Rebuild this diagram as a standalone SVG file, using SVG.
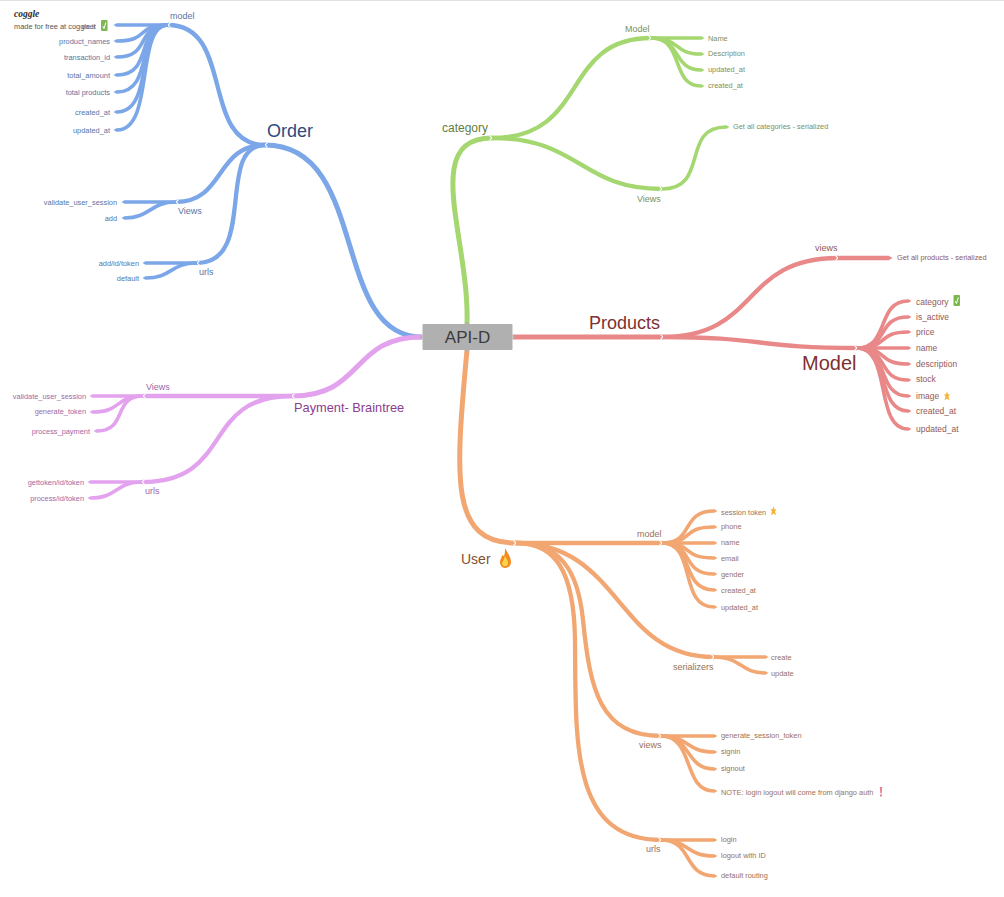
<svg xmlns="http://www.w3.org/2000/svg" width="1004" height="897" viewBox="0 0 1004 897">
<style>
text{font-family:"Liberation Sans",Arial,sans-serif;font-size:7.4px}
.e{text-anchor:end}.m{text-anchor:middle}
.mid{font-size:9px}
.big{font-size:8.500px}
path.c{fill:none;stroke-linecap:butt}
.b{stroke:#7ba6e8}.p{stroke:#e3a2ee}.g{stroke:#a4d76f}.r{stroke:#e98888}.o{stroke:#f2a671}
.w5{stroke-width:5px}.w4{stroke-width:4.300px}.w3{stroke-width:3.600px}
.tb{fill:#2f4b80}.tp{fill:#8a3d92}.tg{fill:#5f7d42}.tr{fill:#7f3030}.to{fill:#85502e}
.lb{fill:#5a74a3}.lp{fill:#a068a8}.lg{fill:#7a9060}.lr{fill:#935858}.lo{fill:#9a7058}
</style>
<defs>
<marker id="ch" markerUnits="userSpaceOnUse" viewBox="0 0 6 6" refX="4" refY="3" markerWidth="6" markerHeight="6" orient="auto"><path d="M1.500 .6L4 3L1.500 5.400" fill="none" stroke="#fff" stroke-width="1.100"/></marker>
<marker id="tb" markerUnits="userSpaceOnUse" viewBox="0 0 5 6" refX="0" refY="3" markerWidth="5" markerHeight="6" orient="auto"><path d="M0 1.100L3.500 3L0 4.900z" fill="#7ba6e8"/></marker>
<marker id="tp" markerUnits="userSpaceOnUse" viewBox="0 0 5 6" refX="0" refY="3" markerWidth="5" markerHeight="6" orient="auto"><path d="M0 1.100L3.500 3L0 4.900z" fill="#e3a2ee"/></marker>
<marker id="tg" markerUnits="userSpaceOnUse" viewBox="0 0 5 6" refX="0" refY="3" markerWidth="5" markerHeight="6" orient="auto"><path d="M0 1.100L3.500 3L0 4.900z" fill="#a4d76f"/></marker>
<marker id="tr" markerUnits="userSpaceOnUse" viewBox="0 0 5 6" refX="0" refY="3" markerWidth="5" markerHeight="6" orient="auto"><path d="M0 1.100L3.500 3L0 4.900z" fill="#e98888"/></marker>
<marker id="to" markerUnits="userSpaceOnUse" viewBox="0 0 5 6" refX="0" refY="3" markerWidth="5" markerHeight="6" orient="auto"><path d="M0 1.100L3.500 3L0 4.900z" fill="#f2a671"/></marker>
<g id="check"><rect x="0" y="0" width="6.500" height="11" rx="1" fill="#7cb74f"/><path d="M1.800 6.200L3 8.600L4.800 2.400" fill="none" stroke="#fff" stroke-width="1"/></g>
<path id="star" d="M3.500 0L4.400 3.200L6.600 3.600L5 5.300L6 9.500L3.500 7.600L1 9.500L2 5.300L.4 3.600L2.600 3.200z" fill="#f7b23b"/>
</defs>
<rect x="0" y="0" width="1004" height="1" fill="#e2e2e2"/>

<g id="connectors">
<path class="c b w5" d="M422 337C330 337 370 145 265 145" marker-end="url(#ch)"/>
<path class="c b w4" d="M265 145C200 145 235 25 168 25" marker-end="url(#ch)"/>
<path class="c b w4" d="M265 145C215 145 225 202 176 202" marker-end="url(#ch)"/>
<path class="c b w4" d="M265 145C215 145 258 263 197 263" marker-end="url(#ch)"/>
<path class="c p w5" d="M422 337C350 337 365 396 292 396" marker-end="url(#ch)"/>
<path class="c p w4" d="M292 396H143" marker-end="url(#ch)"/>
<path class="c p w4" d="M292 396C200 396 235 482 142 482" marker-end="url(#ch)"/>
<path class="c g w5" d="M467 324C470 240 420 138 492 138" marker-end="url(#ch)"/>
<path class="c g w4" d="M492 138C590 138 560 38 651 38" marker-end="url(#ch)"/>
<path class="c g w4" d="M492 138C580 138 580 189 662 189" marker-end="url(#ch)"/>
<path class="c r w5" d="M513 337H663" marker-end="url(#ch)"/>
<path class="c r w4" d="M663 337C760 337 740 258 838 258" marker-end="url(#ch)"/>
<path class="c r w4" d="M663 337C760 337 760 348 857 348" marker-end="url(#ch)"/>
<path class="c o w5" d="M467 350C455 480 450 543 516 543" marker-end="url(#ch)"/>
<path class="c o w4" d="M516 543H662" marker-end="url(#ch)"/>
<path class="c o w4" d="M516 543C622 543 615 657 714 657" marker-end="url(#ch)"/>
<path class="c o w4" d="M516 543C560 543 578 570 583 620C590 690 600 736 661 736" marker-end="url(#ch)"/>
<path class="c o w4" d="M516 543C555 543 574 570 575 640C576 740 570 840 661 840" marker-end="url(#ch)"/>
<path class="c b w3" d="M168 25H117" marker-end="url(#tb)"/>
<path class="c b w3" d="M168 25C135 25 150 41 117 41" marker-end="url(#tb)"/>
<path class="c b w3" d="M168 25C135 25 152 57 117 57" marker-end="url(#tb)"/>
<path class="c b w3" d="M168 25C135 25 154 75 117 75" marker-end="url(#tb)"/>
<path class="c b w3" d="M168 25C135 25 155 92 117 92" marker-end="url(#tb)"/>
<path class="c b w3" d="M168 25C135 25 155 112 117 112" marker-end="url(#tb)"/>
<path class="c b w3" d="M168 25C135 25 155 130 117 130" marker-end="url(#tb)"/>
<path class="c b w3" d="M176 202H125" marker-end="url(#tb)"/>
<path class="c b w3" d="M176 202C150 202 150 218 125 218" marker-end="url(#tb)"/>
<path class="c b w3" d="M197 263H146" marker-end="url(#tb)"/>
<path class="c b w3" d="M197 263C170 263 172 278 146 278" marker-end="url(#tb)"/>
<path class="c p w3" d="M143 396H93" marker-end="url(#tp)"/>
<path class="c p w3" d="M143 396C115 396 122 412 93 412" marker-end="url(#tp)"/>
<path class="c p w3" d="M143 396C112 396 128 431 97 431" marker-end="url(#tp)"/>
<path class="c p w3" d="M142 482H91" marker-end="url(#tp)"/>
<path class="c p w3" d="M142 482C115 482 118 498 91 498" marker-end="url(#tp)"/>
<path class="c g w3" d="M651 38H701" marker-end="url(#tg)"/>
<path class="c g w3" d="M651 38C682 38 672 54 701 54" marker-end="url(#tg)"/>
<path class="c g w3" d="M651 38C682 38 672 70 701 70" marker-end="url(#tg)"/>
<path class="c g w3" d="M651 38C685 38 670 86 701 86" marker-end="url(#tg)"/>
<path class="c g w3" d="M662 189C710 189 680 127 726 127" marker-end="url(#tg)"/>
<path class="c r w4" d="M838 258H889" marker-end="url(#tr)"/>
<path class="c r w3" d="M857 348C890 348 876 301 908 301" marker-end="url(#tr)"/>
<path class="c r w3" d="M857 348C890 348 876 317 908 317" marker-end="url(#tr)"/>
<path class="c r w3" d="M857 348C890 348 876 332 908 332" marker-end="url(#tr)"/>
<path class="c r w3" d="M857 348H908" marker-end="url(#tr)"/>
<path class="c r w3" d="M857 348C890 348 876 364 908 364" marker-end="url(#tr)"/>
<path class="c r w3" d="M857 348C890 348 876 380 908 380" marker-end="url(#tr)"/>
<path class="c r w3" d="M857 348C890 348 876 396 908 396" marker-end="url(#tr)"/>
<path class="c r w3" d="M857 348C890 348 876 411 908 411" marker-end="url(#tr)"/>
<path class="c r w3" d="M857 348C892 348 874 429 908 429" marker-end="url(#tr)"/>
<path class="c o w3" d="M662 543C695 543 680 511 714 511" marker-end="url(#to)"/>
<path class="c o w3" d="M662 543C695 543 680 527 714 527" marker-end="url(#to)"/>
<path class="c o w3" d="M662 543H714" marker-end="url(#to)"/>
<path class="c o w3" d="M662 543C695 543 680 558 714 558" marker-end="url(#to)"/>
<path class="c o w3" d="M662 543C695 543 680 574 714 574" marker-end="url(#to)"/>
<path class="c o w3" d="M662 543C695 543 680 590 714 590" marker-end="url(#to)"/>
<path class="c o w3" d="M662 543C697 543 678 607 714 607" marker-end="url(#to)"/>
<path class="c o w3" d="M714 657H765" marker-end="url(#to)"/>
<path class="c o w3" d="M714 657C742 657 740 673 765 673" marker-end="url(#to)"/>
<path class="c o w3" d="M661 736H714" marker-end="url(#to)"/>
<path class="c o w3" d="M661 736C690 736 685 752 714 752" marker-end="url(#to)"/>
<path class="c o w3" d="M661 736C692 736 685 769 714 769" marker-end="url(#to)"/>
<path class="c o w3" d="M661 736C695 736 682 791 714 791" marker-end="url(#to)"/>
<path class="c o w3" d="M661 840H714" marker-end="url(#to)"/>
<path class="c o w3" d="M661 840C690 840 685 856 714 856" marker-end="url(#to)"/>
<path class="c o w3" d="M661 840C693 840 683 876 714 876" marker-end="url(#to)"/>
</g>

<g id="brand"><text x="14" y="17" style="font-family:'Liberation Serif',serif;font-size:9.500px;font-style:italic;font-weight:bold" fill="#2a2a2a">coggle</text><text x="14" y="29" fill="#555">made for free at coggle.it</text></g>

<g id="root"><rect x="422.500" y="324" width="90" height="26" rx="1" fill="#b0b0b0"/><path d="M464.500 324L467 321.500L469.500 324M464.500 350L467 352.500L469.500 350M422.500 334.500L420 337L422.500 339.500M512.500 334.500L515 337L512.500 339.500" fill="#b0b0b0"/><text x="467.500" y="343" class="m" style="font-size:17px" fill="#3c3c3c">API-D</text></g>

<g id="order"><text x="267" y="137" style="font-size:18px" class="tb">Order</text></g>
<g id="order-model"><text x="170" y="19" class="mid lb">model</text></g>
<g id="order-model-user"><text x="96" y="29" class="e lb">user</text><use href="#check" x="101" y="20"/></g>
<g id="n1"><text x="110" y="44" class="e lb">product_names</text></g>
<g id="n2"><text x="110" y="60" class="e lb">transaction_id</text></g>
<g id="n3"><text x="110" y="78" class="e lb">total_amount</text></g>
<g id="n4"><text x="110" y="95" class="e lb">total products</text></g>
<g id="n5"><text x="110" y="115" class="e lb">created_at</text></g>
<g id="n6"><text x="110" y="133" class="e lb">updated_at</text></g>
<g id="order-views"><text x="178" y="214" class="mid lb">Views</text></g>
<g id="n7"><text x="117" y="205" class="e lb">validate_user_session</text></g>
<g id="n8"><text x="117" y="221" class="e lb">add</text></g>
<g id="order-urls"><text x="199" y="275" class="mid lb">urls</text></g>
<g id="n9"><text x="139" y="266" class="e lb">add/id/token</text></g>
<g id="n10"><text x="139" y="281" class="e lb">default</text></g>

<g id="payment"><text x="294" y="412" style="font-size:12.800px" class="tp">Payment- Braintree</text></g>
<g id="pay-views"><text x="146" y="390" class="mid lp">Views</text></g>
<g id="n11"><text x="86" y="399" class="e lp">validate_user_session</text></g>
<g id="n12"><text x="86" y="414" class="e lp">generate_token</text></g>
<g id="n13"><text x="90" y="434" class="e lp">process_payment</text></g>
<g id="pay-urls"><text x="145" y="494" class="mid lp">urls</text></g>
<g id="n14"><text x="84" y="485" class="e lp">gettoken/id/token</text></g>
<g id="n15"><text x="84" y="501" class="e lp">process/id/token</text></g>

<g id="category"><text x="442" y="132" style="font-size:12px" class="tg">category</text></g>
<g id="cat-model"><text x="625" y="32" class="mid lg">Model</text></g>
<g id="n16"><text x="708" y="41" class="lg">Name</text></g>
<g id="n17"><text x="708" y="56" class="lg">Description</text></g>
<g id="n18"><text x="708" y="72" class="lg">updated_at</text></g>
<g id="n19"><text x="708" y="88" class="lg">created_at</text></g>
<g id="cat-views"><text x="637" y="202" class="mid lg">Views</text></g>
<g id="n20"><text x="733" y="129" class="lg">Get all categories - serialized</text></g>

<g id="products"><text x="589" y="329" style="font-size:18px" class="tr">Products</text></g>
<g id="prod-views"><text x="815" y="251" class="mid lr">views</text></g>
<g id="n21"><text x="897" y="260" class="lr">Get all products - serialized</text></g>
<g id="prod-model"><text x="802" y="370" style="font-size:20px" class="tr">Model</text></g>
<g id="n22"><text x="916" y="305" class="lr big">category</text><use href="#check" x="953.500" y="295"/></g>
<g id="n23"><text x="916" y="320" class="lr big">is_active</text></g>
<g id="n24"><text x="916" y="335" class="lr big">price</text></g>
<g id="n25"><text x="916" y="351" class="lr big">name</text></g>
<g id="n26"><text x="916" y="367" class="lr big">description</text></g>
<g id="n27"><text x="916" y="382" class="lr big">stock</text></g>
<g id="n28"><text x="916" y="399" class="lr big">image</text><use href="#star" x="943.500" y="391"/></g>
<g id="n29"><text x="916" y="414" class="lr big">created_at</text></g>
<g id="n30"><text x="916" y="432" class="lr big">updated_at</text></g>

<g id="user"><text x="461" y="564" style="font-size:14px" class="to">User</text>
<path d="M505 548C507 552 511 557 511 562C511 566 508 568 505 568C502 568 500 565 500 562C500 559 502 558 502 555C503 556 504 556 504 556C505 553 505 551 505 548z" fill="#f28a1e"/><path d="M505 556C506 559 509 561 508 564C507 567 503 567 502 564C502 562 504 560 505 556z" fill="#fcd34d"/></g>
<g id="user-model"><text x="637" y="537" class="mid lo">model</text></g>
<g id="n31"><text x="721" y="515" class="lo">session token</text><use href="#star" x="770" y="506"/></g>
<g id="n32"><text x="721" y="529" class="lo">phone</text></g>
<g id="n33"><text x="721" y="545" class="lo">name</text></g>
<g id="n34"><text x="721" y="561" class="lo">email</text></g>
<g id="n35"><text x="721" y="577" class="lo">gender</text></g>
<g id="n36"><text x="721" y="593" class="lo">created_at</text></g>
<g id="n37"><text x="721" y="610" class="lo">updated_at</text></g>
<g id="user-serializers"><text x="673" y="670" class="mid lo">serializers</text></g>
<g id="n38"><text x="771" y="660" class="lo">create</text></g>
<g id="n39"><text x="771" y="676" class="lo">update</text></g>
<g id="user-views"><text x="639" y="748" class="mid lo">views</text></g>
<g id="n40"><text x="721" y="738" class="lo">generate_session_token</text></g>
<g id="n41"><text x="721" y="754" class="lo">signin</text></g>
<g id="n42"><text x="721" y="771" class="lo">signout</text></g>
<g id="n43"><text x="721" y="795" class="lo">NOTE: login logout will come from django auth</text><path d="M879.800 787h2.400l-.5 6.500h-1.400zM880 794.500h2v2h-2z" fill="#e8828f"/></g>
<g id="user-urls"><text x="646" y="852" class="mid lo">urls</text></g>
<g id="n44"><text x="721" y="842" class="lo">login</text></g>
<g id="n45"><text x="721" y="858" class="lo">logout with ID</text></g>
<g id="n46"><text x="721" y="878" class="lo">default routing</text></g>
</svg>
